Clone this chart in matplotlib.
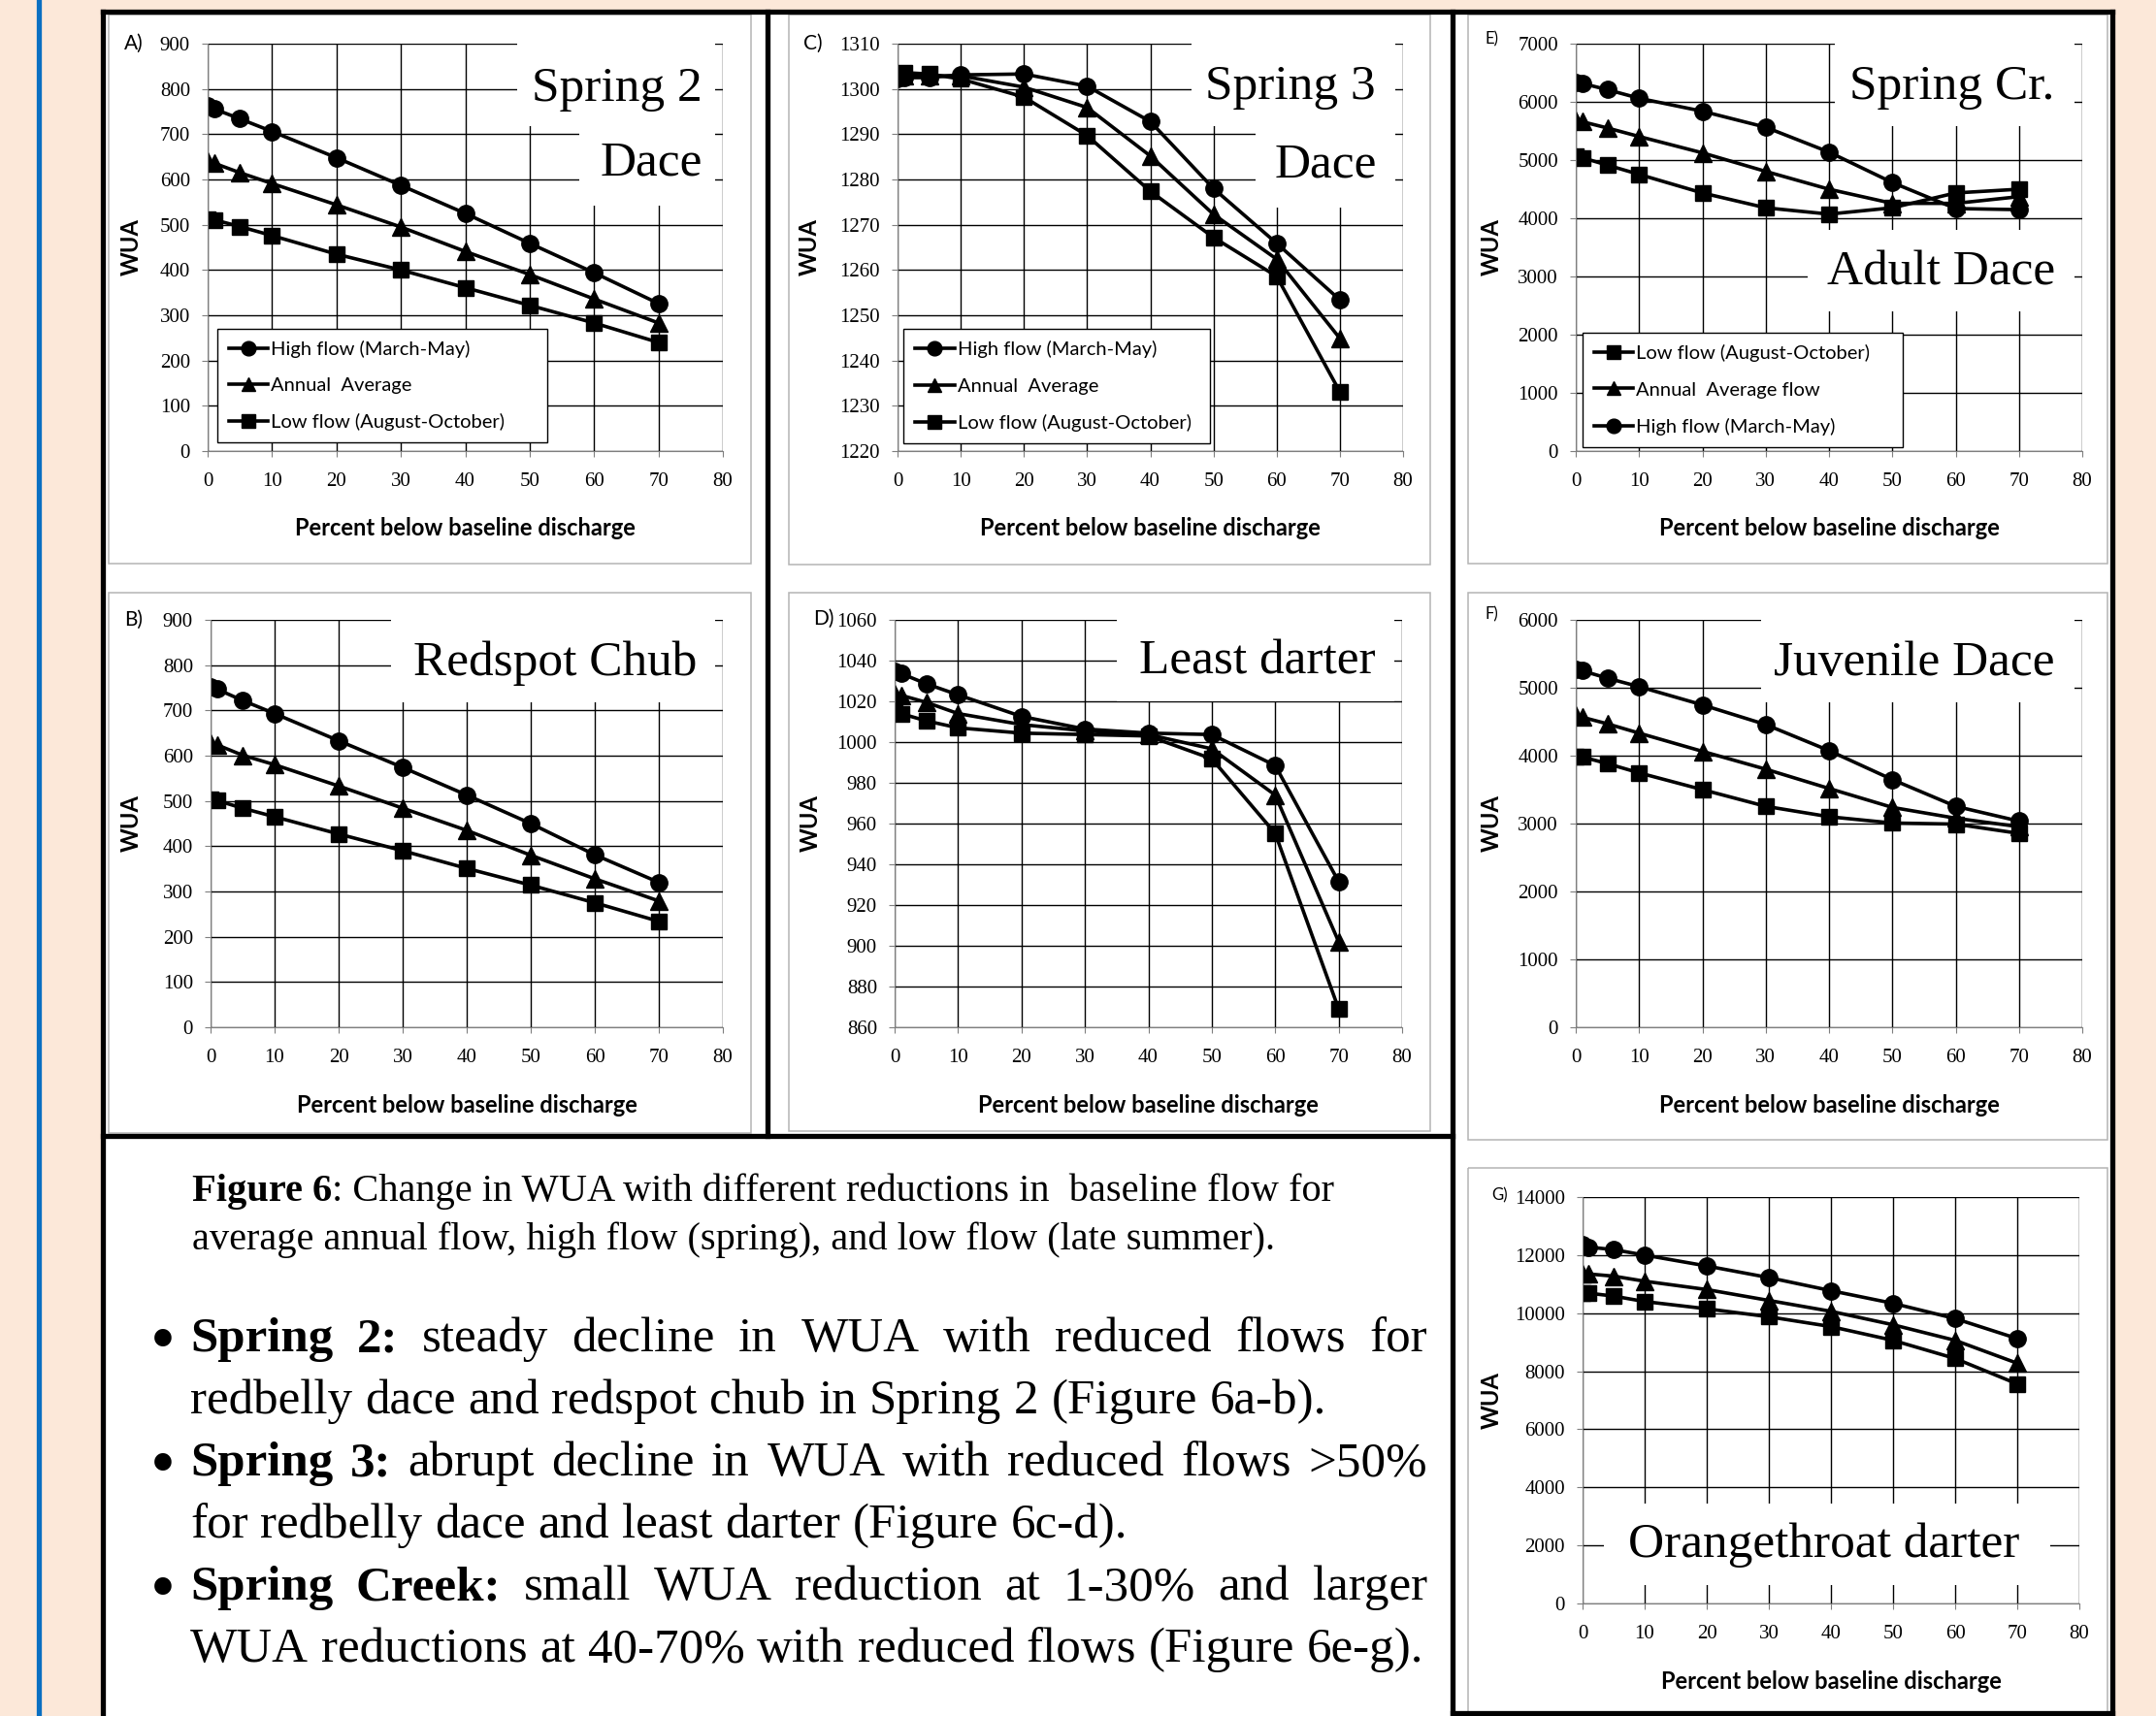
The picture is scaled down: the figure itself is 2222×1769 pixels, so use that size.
import matplotlib
matplotlib.use('Agg')
import matplotlib.pyplot as plt
import numpy as np
from matplotlib.patches import Rectangle

W, H = 2222, 1769
PEACH = '#fce8d9'
BLUE = '#0a6fc2'
SERIF = 'Liberation Serif'
SANS = 'Lato'

# percent below baseline discharge
pct = [0, 1, 5, 10, 20, 30, 40, 50, 60, 70]

# A) Spring 2 - dace
a_high = [763, 756, 734, 706, 648, 587, 525, 459, 394, 326]
a_avg = [640, 636, 615, 591, 544, 495, 441, 390, 336, 283]
a_low = [513, 511, 496, 476, 435, 400, 361, 322, 283, 240]
# B) Spring 2 - redspot chub
b_high = [752, 747, 722, 693, 633, 574, 513, 450, 381, 320]
b_avg = [628, 624, 601, 580, 533, 484, 435, 380, 328, 279]
b_low = [503, 501, 484, 465, 427, 390, 351, 314, 275, 234]
# C) Spring 3 - dace
c_high = [1302.3, 1302.5, 1302.5, 1303.1, 1303.3, 1300.6, 1292.8, 1278.0, 1265.9, 1253.4]
c_avg = [1302.9, 1302.9, 1302.9, 1302.9, 1300.4, 1295.9, 1285.2, 1272.3, 1262.4, 1244.9]
c_low = [1303.4, 1303.6, 1303.3, 1302.2, 1298.2, 1289.7, 1277.4, 1267.2, 1258.6, 1233.1]
# D) Spring 3 - least darter
d_high = [1035, 1033.7, 1028.6, 1023.2, 1012.6, 1006.4, 1004.4, 1003.7, 988.5, 931.5]
d_avg = [1024, 1023, 1019.5, 1014, 1008.6, 1005.5, 1003.7, 996.7, 974, 902]
d_low = [1014.4, 1014, 1010.4, 1007, 1004.4, 1003.7, 1003, 991.8, 955.2, 869]
# E) Spring Cr. - adult dace
e_high = [6336, 6317, 6209, 6062, 5839, 5564, 5137, 4614, 4167, 4148]
e_avg = [5679, 5660, 5551, 5405, 5124, 4805, 4499, 4256, 4256, 4371]
e_low = [5073, 5041, 4913, 4754, 4435, 4180, 4071, 4180, 4435, 4499]
# F) Spring Cr. - juvenile dace
f_high = [5267, 5251, 5141, 5016, 4748, 4458, 4075, 3648, 3254, 3036]
f_avg = [4594, 4567, 4469, 4332, 4064, 3801, 3517, 3238, 3079, 2954]
f_low = [3982, 3982, 3883, 3747, 3500, 3254, 3101, 3008, 2992, 2855]
# G) Spring Cr. - orangethroat darter
g_high = [12350, 12275, 12188, 12000, 11625, 11225, 10775, 10338, 9813, 9125]
g_avg = [11375, 11350, 11275, 11100, 10813, 10438, 10063, 9600, 9063, 8275]
g_low = [10688, 10688, 10588, 10400, 10150, 9875, 9538, 9063, 8438, 7563]

high_lbl = 'High flow (March-May)'
avg_lbl = 'Annual  Average'
low_lbl = 'Low flow (August-October)'

fig = plt.figure(figsize=(W / 100, H / 100), dpi=100, facecolor=PEACH)
bg = fig.add_axes([0, 0, 1, 1])
bg.set_xlim(0, W)
bg.set_ylim(H, 0)
bg.axis('off')
renderer = fig.canvas.get_renderer()

bg.add_patch(Rectangle((106, 11), 2178 - 106, H - 11, fc='white', ec='none'))
bg.plot([40, 40], [0, H], color=BLUE, lw=3.8)

# gray chart-area frames
for x0, y0, x1, y1 in [(112, 15, 774, 581), (813, 15, 1474, 582), (1513, 15, 2172, 581),
                       (112, 611, 774, 1168), (813, 611, 1474, 1166), (1513, 611, 2172, 1175),
                       (1513, 1204, 2172, 1775)]:
    bg.add_patch(Rectangle((x0, y0), x1 - x0, y1 - y0, fill=False, ec='#b4b4b4', lw=1.1))

# black outline boxes
for xs, ys in [((106, 2177), (12, 12)), ((106, 106), (12, H)), ((2177, 2177), (12, 1766)),
               ((791, 791), (12, 1171)), ((1497, 1497), (12, H)), ((106, 1497), (1171, 1171)),
               ((1497, 2177), (1766, 1766))]:
    bg.plot(xs, ys, color='black', lw=3.8, solid_capstyle='projecting')


def add_legend(ax, handles, labels, anchor):
    x0, y0, x1, y1 = anchor
    leg = ax.legend(handles, labels, loc='lower left', bbox_to_anchor=(x0, y0, x1 - x0, y1 - y0),
                    mode='expand', borderaxespad=0, prop={'family': SANS, 'size': 14.5},
                    fancybox=False, edgecolor='black', framealpha=1, handlelength=2.0,
                    handletextpad=0.15, labelspacing=1.0, borderpad=0.6, numpoints=1,
                    markerscale=0.85)
    leg.get_frame().set_linewidth(1.0)


def panel(box, ylim, ystep, letter, high, avg, low, ylab_x, tags):
    l, t, r, b = box
    ax = fig.add_axes([l / W, 1 - b / H, (r - l) / W, (b - t) / H])
    ax.plot(pct, high, '-o', color='black', lw=2.6, ms=12.5, label=high_lbl)
    ax.plot(pct, avg, '-^', color='black', lw=2.6, ms=12.5, label=avg_lbl)
    ax.plot(pct, low, '-s', color='black', lw=2.6, ms=12, label=low_lbl)
    ax.set_xlim(0, 80)
    ax.set_xticks(range(0, 81, 10))
    ax.set_ylim(*ylim)
    ax.set_yticks(np.arange(ylim[0], ylim[1] + ystep / 2, ystep))
    ax.grid(True, color='black', lw=1.0)
    for s in ('top', 'right'):
        ax.spines[s].set_visible(False)
    for s in ('left', 'bottom'):
        ax.spines[s].set_color('#7f7f7f')
    ax.tick_params(direction='out', length=4, color='#7f7f7f', labelsize=15,
                   labelfontfamily=SERIF)
    ax.tick_params(axis='x', pad=12)
    ax.tick_params(axis='y', pad=9)

    ax.set_xlabel('Percent below baseline discharge', fontsize=17, fontweight='bold', family=SANS)
    ax.xaxis.set_label_coords(0.5, -80 / (b - t))
    ax.xaxis.label.set_va('center')
    ax.set_ylabel('WUA', fontsize=17, fontweight='bold', family=SANS)
    ax.yaxis.set_label_coords((ylab_x - l) / (r - l), 0.5)
    ax.yaxis.label.set_va('center')

    txt, lx, ly, lsize = letter
    bg.text(lx, ly, txt, family=SANS, fontsize=lsize, va='center')

    for name, tx, ty, ha, (x0, y0, x1, y1) in tags:
        ax.add_patch(Rectangle((x0, y0), x1 - x0, y1 - y0, transform=ax.transAxes,
                               fc='white', ec='none', zorder=1.8, clip_on=False))
        ax.text(tx, ty, name, transform=ax.transAxes, ha=ha, va='center',
                family=SERIF, fontsize=37, zorder=3)
    return ax


ax_a = panel((214, 45, 745, 465), (0, 900), 100, ('A)', 128, 45, 15), a_high, a_avg, a_low, 135,
             [('Spring 2', 0.960, 0.888, 'right', (0.600, 0.798, 0.985, 1.01)),
              ('Dace', 0.960, 0.707, 'right', (0.721, 0.602, 0.985, 0.798))])
add_legend(ax_a, ax_a.get_lines(), [high_lbl, avg_lbl, low_lbl], (0.019, 0.021, 0.659, 0.31))

ax_c = panel((925, 45, 1446, 465), (1220, 1310), 10, ('C)', 828, 45, 15), c_high, c_avg, c_low, 834,
             [('Spring 3', 0.946, 0.893, 'right', (0.582, 0.798, 0.985, 1.01)),
              ('Dace', 0.948, 0.702, 'right', (0.708, 0.598, 0.985, 0.798))])
add_legend(ax_c, ax_c.get_lines(), [high_lbl, avg_lbl, low_lbl], (0.012, 0.019, 0.618, 0.319))

ax_e = panel((1624, 45, 2146, 465), (0, 7000), 1000, ('E)', 1530, 40, 12), e_high, e_avg, e_low, 1537,
             [('Spring Cr.', 0.946, 0.893, 'right', (0.511, 0.798, 0.985, 1.01)),
              ('Adult Dace', 0.946, 0.438, 'right', (0.458, 0.343, 0.985, 0.543))])
add_legend(ax_e, ax_e.get_lines()[::-1], [low_lbl, 'Annual  Average flow', high_lbl],
           (0.013, 0.01, 0.646, 0.31))

panel((217, 639, 745, 1059), (0, 900), 100, ('B)', 128, 639, 15), b_high, b_avg, b_low, 135,
      [('Redspot Chub', 0.949, 0.893, 'right', (0.352, 0.798, 0.985, 1.01))])
panel((922, 639, 1445, 1059), (860, 1060), 20, ('D)', 838, 638, 15), d_high, d_avg, d_low, 835,
      [('Least darter', 0.948, 0.898, 'right', (0.438, 0.800, 0.985, 1.01))])
panel((1624, 639, 2146, 1059), (0, 6000), 1000, ('F)', 1530, 633, 12), f_high, f_avg, f_low, 1537,
      [('Juvenile Dace', 0.946, 0.893, 'right', (0.366, 0.798, 0.985, 1.01))])
panel((1631, 1234, 2143, 1653), (0, 14000), 2000, ('G)', 1537, 1232, 12), g_high, g_avg, g_low, 1537,
      [('Orangethroat darter', 0.486, 0.143, 'center', (0.043, 0.045, 0.941, 0.246))])


def width(t):
    return t.get_window_extent(renderer).width


def fit(s, target, bold=False):
    t = bg.text(0, 0, s, family=SERIF, fontsize=20, fontweight='bold' if bold else 'normal')
    w = width(t)
    t.remove()
    return 20 * target / w


def put_line(words, x0, base, size, justify=None):
    items = [bg.text(0, base, s, family=SERIF, fontsize=size, va='baseline',
                     fontweight='bold' if bold else 'normal') for s, bold in words]
    ws = [width(t) for t in items]
    gap = 0.25 * size * 100 / 72
    if justify and len(items) > 1:
        gap = (justify - sum(ws)) / (len(items) - 1)
    x = x0
    for t, w in zip(items, ws):
        t.set_x(x)
        x += w + gap


# caption
cap_size = fit('average annual flow, high flow (spring), and low flow (late summer).', 1117)
fig_bold = bg.text(198, 1238, 'Figure 6', family=SERIF, fontsize=cap_size, fontweight='bold', va='baseline')
bg.text(198 + width(fig_bold), 1238, ': Change in WUA with different reductions in  baseline flow for',
        family=SERIF, fontsize=cap_size, va='baseline')
bg.text(198, 1288, 'average annual flow, high flow (spring), and low flow (late summer).',
        family=SERIF, fontsize=cap_size, va='baseline')

# bullet points
bullets = [
    ('Spring 2:', 'steady decline in WUA with reduced flows for',
     'redbelly dace and redspot chub in Spring 2 (Figure 6a-b).'),
    ('Spring 3:', 'abrupt decline in WUA with reduced flows >50%',
     'for redbelly dace and least darter (Figure 6c-d).'),
    ('Spring Creek:', 'small WUA reduction at 1-30% and larger',
     'WUA reductions at 40-70% with reduced flows (Figure 6e-g).'),
]
b_size = min(fit(bullets[0][2], 1221), fit(bullets[1][2], 1115), fit(bullets[2][2], 1266))
y = 1380
for head, first, second in bullets:
    bg.text(168, y + 24, '\u2022', family=SERIF, fontsize=b_size * 1.45, ha='center', va='baseline')
    words = [(w, True) for w in head.split()] + [(w, False) for w in first.split()]
    put_line(words, 196, y + 13, b_size, justify=1275)
    put_line([(w, False) for w in second.split()], 196, y + 77, b_size)
    y += 128

fig.savefig('out.png', dpi=100, facecolor=PEACH)
